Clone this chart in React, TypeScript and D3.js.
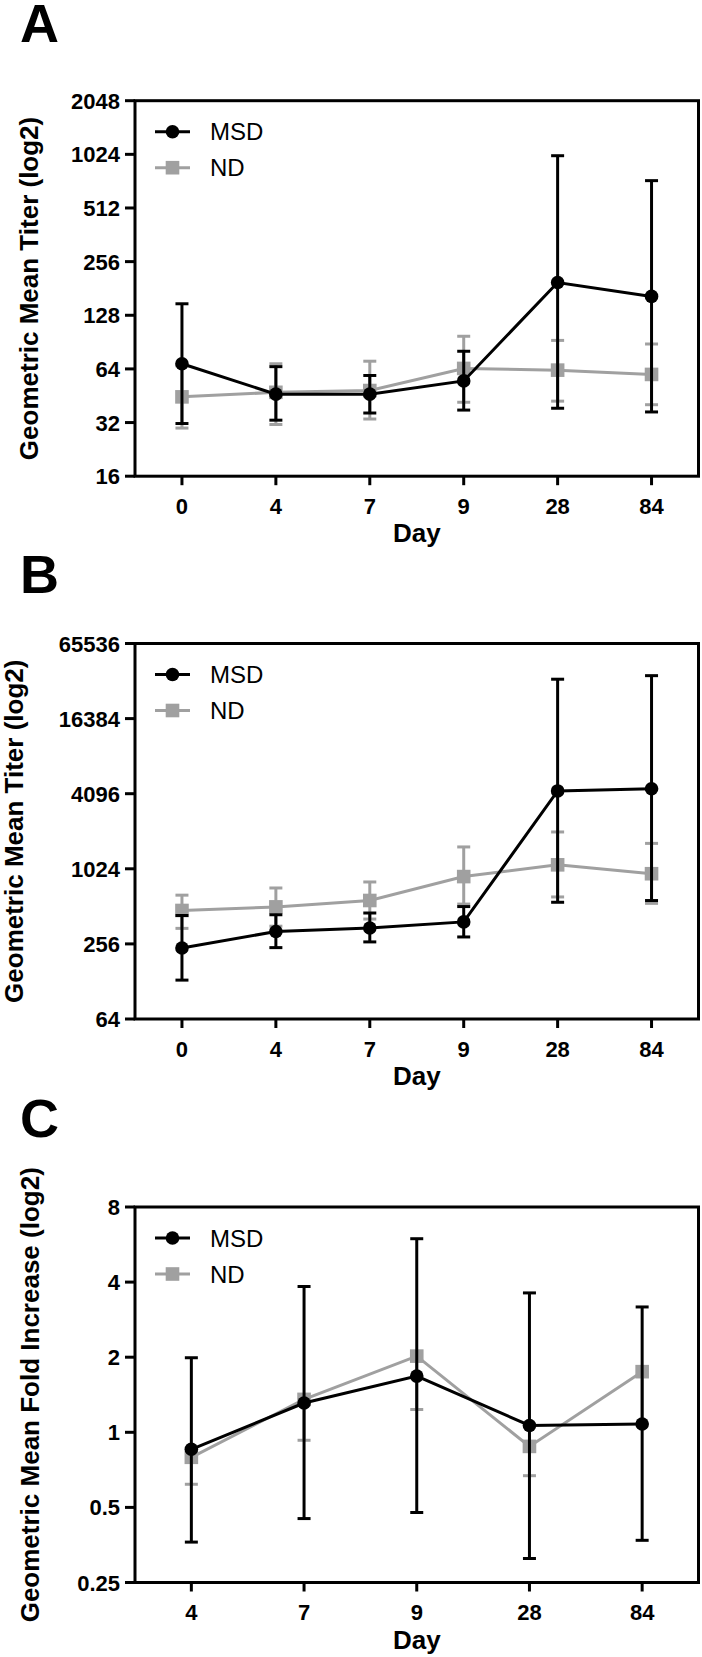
import React from 'react';
import * as d3 from 'd3';

// ---------- data ----------
const daysAB = ['0', '4', '7', '9', '28', '84'];
const daysC = ['4', '7', '9', '28', '84'];

// Panel A: Geometric Mean Titer
const msdA = [68.4, 46.2, 46.2, 54.8, 195.5, 163.3];
const msdALow = [31.6, 33.0, 36.2, 37.6, 38.5, 36.7];
const msdAHigh = [148.5, 65.9, 58.8, 80.4, 1006, 729];
const ndA = [44.6, 47.3, 48.4, 64.4, 63.0, 59.6];
const ndALow = [29.8, 31.2, 33.5, 41.6, 42.2, 40.3];
const ndAHigh = [66.6, 68.4, 70.7, 97.6, 92.5, 88.3];

// Panel B: Geometric Mean Titer
const msdB = [237.5, 321.6, 343.5, 384.3, 4311, 4486];
const msdBLow = [131.2, 239, 265.6, 291, 552, 570];
const msdBHigh = [432.6, 438.4, 452.8, 510, 33900, 36200];
const ndB = [474.5, 507, 570.5, 887, 1102, 935];
const ndBLow = [341, 355, 405, 534, 609, 541];
const ndBHigh = [629.5, 718.6, 803, 1533, 2021, 1637];

// Panel C: Geometric Mean Fold Increase
const msdC = [0.855, 1.31, 1.68, 1.065, 1.08];
const msdCLow = [0.363, 0.451, 0.477, 0.312, 0.369];
const msdCHigh = [1.99, 3.84, 5.97, 3.62, 3.18];
const ndC = [0.794, 1.355, 2.02, 0.878, 1.75];
const ndCLow = [0.619, 0.929, 1.234, 0.67, 1.08];
const ndCHigh: (number | null)[] = [null, null, null, null, null];

const ticksA = [16, 32, 64, 128, 256, 512, 1024, 2048];
const ticksB = [64, 256, 1024, 4096, 16384, 65536];
const ticksC = [0.25, 0.5, 1, 2, 4, 8];
const tickLabelsA = ['16', '32', '64', '128', '256', '512', '1024', '2048'];
const tickLabelsB = ['64', '256', '1024', '4096', '16384', '65536'];
const tickLabelsC = ['0.25', '0.5', '1', '2', '4', '8'];

const seriesNames = ['MSD', 'ND'];
const xTitle = 'Day';
const titleAB = 'Geometric Mean Titer (log2)';
const titleC = 'Geometric Mean Fold Increase (log2)';

// ---------- styles ----------
const W = 702;
const H = 1657;
const BLACK = '#000000';
const GRAY = '#a0a0a0';
const FONT = '"Liberation Sans", Arial, Helvetica, sans-serif';
const LEFT = 135;
const RIGHT = 698.5;
const PLOT_H = 375.5;

type Series = { mean: number[]; low: number[]; high: (number | null)[] };

type PanelProps = {
  letter: string;
  letterY: number;
  top: number;
  days: string[];
  ticks: number[];
  tickLabels: string[];
  title: string;
  titleX: number;
  msd: Series;
  nd: Series;
};

function SeriesMarks({ s, days, x, y, color, shape }: any) {
  const line = d3
    .line<number>()
    .x((_, i) => x(days[i]) as number)
    .y((d) => y(d));
  const cap = 6.5;
  return (
    <g>
      {s.mean.map((m: number, i: number) => {
        const cx = x(days[i]) as number;
        const hi = s.high[i];
        const lo = s.low[i];
        const yTop = hi != null ? y(hi) : y(m);
        return (
          <g key={i} stroke={color} strokeWidth={3} fill="none">
            <line x1={cx} x2={cx} y1={yTop} y2={y(lo)} />
            {hi != null && <line x1={cx - cap} x2={cx + cap} y1={y(hi)} y2={y(hi)} />}
            <line x1={cx - cap} x2={cx + cap} y1={y(lo)} y2={y(lo)} />
          </g>
        );
      })}
      <path d={line(s.mean) || ''} stroke={color} strokeWidth={3} fill="none" />
      {s.mean.map((m: number, i: number) => {
        const cx = x(days[i]) as number;
        return shape === 'circle' ? (
          <circle key={i} cx={cx} cy={y(m)} r={6.8} fill={color} />
        ) : (
          <rect key={i} x={cx - 6.8} y={y(m) - 6.8} width={13.6} height={13.6} fill={color} />
        );
      })}
    </g>
  );
}

function Panel(p: PanelProps) {
  const bottom = p.top + PLOT_H;
  const x = d3.scalePoint<string>().domain(p.days).range([LEFT, RIGHT]).padding(0.5);
  const y = d3
    .scaleLog()
    .base(2)
    .domain([p.ticks[0], p.ticks[p.ticks.length - 1]])
    .range([bottom, p.top]);
  const cy = (p.top + bottom) / 2;
  const lgY1 = p.top + 31;
  const lgY2 = p.top + 67;
  return (
    <g>
      <text x={20} y={p.letterY} fontFamily={FONT} fontWeight="bold" fontSize={54} fill={BLACK}>
        {p.letter}
      </text>
      {/* frame */}
      <rect x={LEFT} y={p.top} width={RIGHT - LEFT} height={PLOT_H} fill="none" stroke={BLACK} strokeWidth={3} />
      {/* y ticks */}
      {p.ticks.map((t, i) => (
        <g key={t}>
          <line x1={125} x2={LEFT} y1={y(t)} y2={y(t)} stroke={BLACK} strokeWidth={3} />
          <text
            x={120}
            y={y(t) + 8}
            textAnchor="end"
            fontFamily={FONT}
            fontWeight="bold"
            fontSize={22}
            fill={BLACK}
          >
            {p.tickLabels[i]}
          </text>
        </g>
      ))}
      {/* x ticks */}
      {p.days.map((d) => (
        <g key={d}>
          <line x1={x(d)} x2={x(d)} y1={bottom} y2={bottom + 9} stroke={BLACK} strokeWidth={3} />
          <text
            x={x(d)}
            y={bottom + 37.5}
            textAnchor="middle"
            fontFamily={FONT}
            fontWeight="bold"
            fontSize={22}
            fill={BLACK}
          >
            {d}
          </text>
        </g>
      ))}
      <text
        x={(LEFT + RIGHT) / 2}
        y={bottom + 66}
        textAnchor="middle"
        fontFamily={FONT}
        fontWeight="bold"
        fontSize={26}
        fill={BLACK}
      >
        {xTitle}
      </text>
      <text
        x={p.titleX}
        y={cy}
        transform={`rotate(-90, ${p.titleX}, ${cy})`}
        textAnchor="middle"
        fontFamily={FONT}
        fontWeight="bold"
        fontSize={26}
        fill={BLACK}
      >
        {p.title}
      </text>
      {/* data: gray below black */}
      <SeriesMarks s={p.nd} days={p.days} x={x} y={y} color={GRAY} shape="square" />
      <SeriesMarks s={p.msd} days={p.days} x={x} y={y} color={BLACK} shape="circle" />
      {/* legend */}
      <line x1={155} x2={190} y1={lgY1} y2={lgY1} stroke={BLACK} strokeWidth={3} />
      <circle cx={172.5} cy={lgY1} r={6.8} fill={BLACK} />
      <text x={210} y={lgY1 + 8.5} fontFamily={FONT} fontSize={24} fill={BLACK}>
        {seriesNames[0]}
      </text>
      <line x1={155} x2={190} y1={lgY2} y2={lgY2} stroke={GRAY} strokeWidth={3} />
      <rect x={172.5 - 6.8} y={lgY2 - 6.8} width={13.6} height={13.6} fill={GRAY} />
      <text x={210} y={lgY2 + 8.5} fontFamily={FONT} fontSize={24} fill={BLACK}>
        {seriesNames[1]}
      </text>
    </g>
  );
}

export default function App() {
  return (
    <svg
      width={W}
      height={H}
      viewBox={`0 0 ${W} ${H}`}
      style={{ position: 'absolute', left: 0, top: 0, background: '#ffffff' }}
    >
      <rect x={0} y={0} width={W} height={H} fill="#ffffff" />
      <Panel
        letter="A"
        letterY={42}
        top={100.7}
        days={daysAB}
        ticks={ticksA}
        tickLabels={tickLabelsA}
        title={titleAB}
        titleX={38}
        msd={{ mean: msdA, low: msdALow, high: msdAHigh }}
        nd={{ mean: ndA, low: ndALow, high: ndAHigh }}
      />
      <Panel
        letter="B"
        letterY={593}
        top={643.5}
        days={daysAB}
        ticks={ticksB}
        tickLabels={tickLabelsB}
        title={titleAB}
        titleX={23}
        msd={{ mean: msdB, low: msdBLow, high: msdBHigh }}
        nd={{ mean: ndB, low: ndBLow, high: ndBHigh }}
      />
      <Panel
        letter="C"
        letterY={1137}
        top={1207}
        days={daysC}
        ticks={ticksC}
        tickLabels={tickLabelsC}
        title={titleC}
        titleX={38.5}
        msd={{ mean: msdC, low: msdCLow, high: msdCHigh }}
        nd={{ mean: ndC, low: ndCLow, high: ndCHigh }}
      />
    </svg>
  );
}
